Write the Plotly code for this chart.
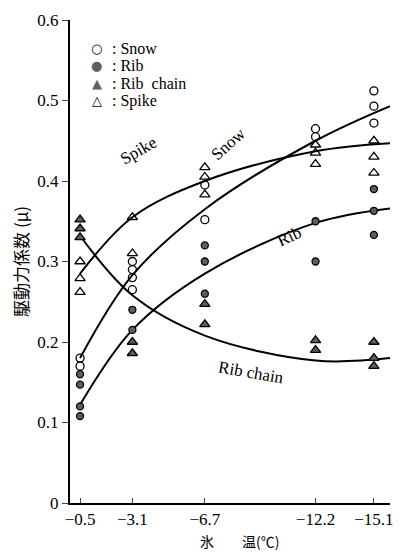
import plotly.graph_objects as go

# Ice temperatures (deg C) at which traction was measured
temps = [-0.5, -3.1, -6.7, -12.2, -15.1]
tick_text = ["\u22120.5", "\u22123.1", "\u22126.7", "\u221212.2", "\u221215.1"]

# Measured traction coefficients, one list per temperature
snow_vals = [[0.18, 0.17], [0.30, 0.29, 0.28, 0.265], [0.395, 0.352], [0.465, 0.455], [0.512, 0.493, 0.472]]
rib_vals = [[0.16, 0.147, 0.12, 0.108], [0.24, 0.215], [0.32, 0.30, 0.26], [0.35, 0.30], [0.39, 0.363, 0.333]]
ribchain_vals = [[0.352, 0.341, 0.33], [0.20, 0.186], [0.247, 0.222], [0.202, 0.19], [0.20, 0.18, 0.17]]
spike_vals = [[0.30, 0.279, 0.262], [0.355, 0.31], [0.417, 0.405, 0.383], [0.445, 0.435, 0.421], [0.45, 0.43, 0.41]]

# Smoothed trend curves
curve_t = [-0.5, -3.1, -6.7, -12.2, -15.9]
snow_curve = [0.18, 0.283, 0.365, 0.45, 0.493]
spike_curve = [0.285, 0.355, 0.40, 0.437, 0.447]
rib_curve = [0.122, 0.215, 0.285, 0.348, 0.366]
ribchain_curve = [0.332, 0.258, 0.208, 0.177, 0.18]

SERIF = "Liberation Serif, Times New Roman, serif"
CJK = "Noto Sans CJK JP"
GRAY = "#5e5e5e"


def flatten(vals):
    xs, ys = [], []
    for t, group in zip(temps, vals):
        for v in group:
            xs.append(t)
            ys.append(v)
    return xs, ys


fig = go.Figure()

for curve in [snow_curve, spike_curve, rib_curve, ribchain_curve]:
    fig.add_trace(go.Scatter(
        x=curve_t, y=curve, mode="lines", line=dict(color="black", width=2, shape="spline", smoothing=1.0),
        showlegend=False, hoverinfo="skip"))

series = [
    ("Snow", snow_vals, dict(symbol="circle-open", size=8, color="black", line=dict(width=1.3)),
     "\u25cb", "black"),
    ("Rib", rib_vals, dict(symbol="circle", size=7, color=GRAY, line=dict(color="black", width=1.3)),
     "\u25cf", GRAY),
    ("Rib  chain", ribchain_vals, dict(symbol="triangle-up", size=9, color=GRAY, line=dict(color="black", width=1.3)),
     "\u25b2", GRAY),
    ("Spike", spike_vals, dict(symbol="triangle-up-open", size=9, color="black", line=dict(width=1.3)),
     "\u25b3", "black"),
]
for name, vals, marker, _, _ in series:
    xs, ys = flatten(vals)
    fig.add_trace(go.Scatter(x=xs, y=ys, mode="markers", name=name, marker=marker, showlegend=False))

# Key in the upper-left corner
legend_rows = [0.942, 0.905, 0.868, 0.833]
for (name, _, _, glyph, gcol), ry in zip(series, legend_rows):
    fig.add_annotation(xref="paper", yref="paper", x=0.084, y=ry, text=glyph, showarrow=False,
                       xanchor="center", yanchor="middle",
                       font=dict(family="DejaVu Sans", size=13, color=gcol))
    fig.add_annotation(xref="paper", yref="paper", x=0.125, y=ry, text=": " + name, showarrow=False,
                       xanchor="left", yanchor="middle",
                       font=dict(family=SERIF, size=16, color="black"))

# Curve labels
labels = [
    ("Spike", -3.4, 0.438, -30),
    ("Snow", -7.9, 0.446, -42),
    ("Rib", -10.9, 0.331, -25),
    ("Rib chain", -9.0, 0.162, 10),
]
for text, x, y, ang in labels:
    fig.add_annotation(x=x, y=y, text=text, showarrow=False, textangle=ang,
                       font=dict(family=SERIF, size=17, color="black"))

fig.add_annotation(xref="paper", yref="paper", x=0.53, y=-0.079, yanchor="middle",
                   text="\u6c37\u3000\u3000\u6e29(\u2103)", showarrow=False,
                   font=dict(family=CJK, size=14, color="black"))
fig.add_annotation(xref="paper", yref="paper", x=-0.155, y=0.5, xanchor="center",
                   text="\u99c6\u52d5\u529b\u4fc2\u6570 (\u03bc)", textangle=-90, showarrow=False,
                   font=dict(family=CJK, size=17, color="black"))

fig.update_layout(
    width=404, height=552,
    margin=dict(l=70, r=11, t=17, b=49),
    paper_bgcolor="white", plot_bgcolor="white",
    showlegend=False,
    xaxis=dict(range=[0, -15.9], tickvals=temps, ticktext=tick_text, ticks="inside", ticklen=5,
               showline=True, linecolor="black", linewidth=2, showgrid=False, zeroline=False,
               tickfont=dict(family=SERIF, size=17, color="black")),
    yaxis=dict(range=[0, 0.6], tickvals=[0, 0.1, 0.2, 0.3, 0.4, 0.5, 0.6],
               ticktext=["0", "0.1", "0.2", "0.3", "0.4", "0.5", "0.6"], ticks="outside", ticklen=6,
               showline=True, linecolor="black", linewidth=2, showgrid=False, zeroline=False,
               tickfont=dict(family=SERIF, size=17, color="black")),
)

fig.write_html("out.html")
